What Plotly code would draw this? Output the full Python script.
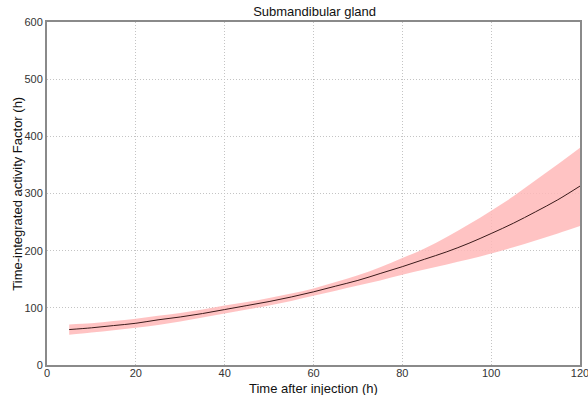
import plotly.graph_objects as go

# Time after injection (h)
hours = [5, 10, 15, 20, 25, 30, 35, 40, 45, 50, 55, 60, 65, 70, 75, 80, 85, 90, 95, 100, 105, 110, 115, 120]
# Mean time-integrated activity factor (h)
tiaf_mean = [62, 65, 69, 73, 79, 84, 90, 97, 104, 111, 119, 128, 138, 148, 160, 172, 185, 198, 213, 230, 248, 268, 289, 313]
# Lower / upper bounds of the uncertainty band
tiaf_low = [53, 57, 61, 65, 70, 76, 83, 90, 97, 104, 112, 121, 130, 139, 148, 158, 167, 176, 185, 195, 206, 218, 230, 243]
tiaf_high = [71, 73, 77, 81, 86, 91, 97, 104, 110, 117, 125, 134, 145, 157, 171, 187, 204, 224, 246, 270, 295, 323, 351, 380]

FONT = "Liberation Sans, Arial"

fig = go.Figure()

fig.add_trace(go.Scatter(
    x=hours, y=tiaf_low, mode="lines", line=dict(width=0, shape="spline"),
    hoverinfo="skip", showlegend=False,
))
fig.add_trace(go.Scatter(
    x=hours, y=tiaf_high, mode="lines", line=dict(width=0, shape="spline"),
    fill="tonexty", fillcolor="rgba(255,185,185,0.85)",
    hoverinfo="skip", showlegend=False,
))
fig.add_trace(go.Scatter(
    x=hours, y=tiaf_mean, mode="lines",
    line=dict(color="#3a1a1a", width=1, shape="spline"),
    showlegend=False,
))

axis_common = dict(
    showline=True, linecolor="#8a8a8a", linewidth=2, mirror=True,
    showgrid=True, gridcolor="#c4c4c4", griddash="1px,2px", gridwidth=1,
    zeroline=False, ticks="", automargin=False, ticklabeloverflow="allow",
    tickfont=dict(family=FONT, size=11, color="#333333"),
)

fig.update_layout(
    width=588, height=395,
    margin=dict(l=47, r=8, t=22, b=30),
    paper_bgcolor="white", plot_bgcolor="white",
    title=dict(text="Submandibular gland", x=0.535, xanchor="center", y=0.972, yanchor="middle",
               font=dict(family=FONT, size=13, color="#111111")),
    xaxis=dict(range=[0, 120], dtick=20, ticklabelstandoff=-3, **axis_common),
    yaxis=dict(range=[0, 600], dtick=100, **axis_common),
    annotations=[
        dict(text="Time after injection (h)", xref="paper", yref="paper", x=0.5, y=-0.068,
             xanchor="center", yanchor="middle", showarrow=False,
             font=dict(family=FONT, size=13, color="#111111")),
        dict(text="Time-integrated activity Factor (h)", xref="paper", yref="paper", x=-0.056, y=0.5,
             xanchor="center", yanchor="middle", textangle=-90, showarrow=False,
             font=dict(family=FONT, size=13, color="#111111")),
    ],
)

fig.write_html("out.html")
